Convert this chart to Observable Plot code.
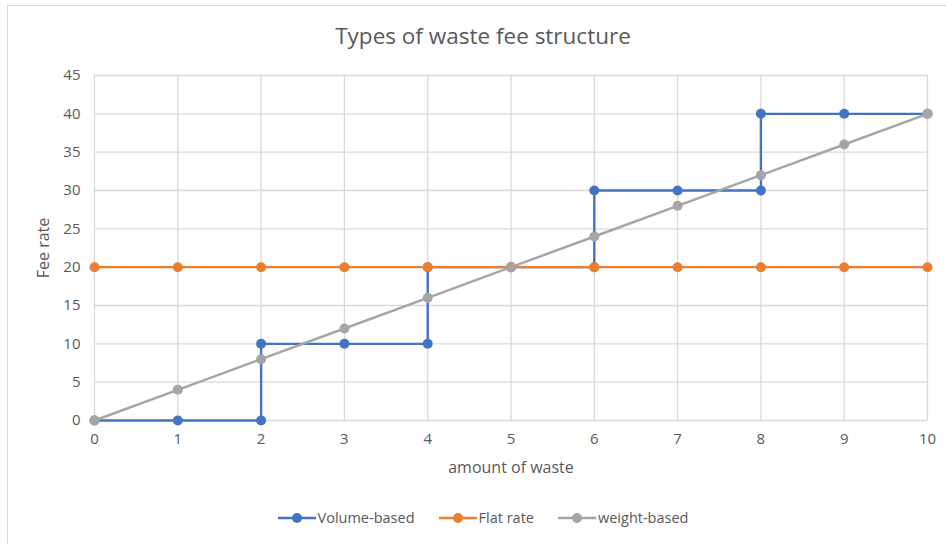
<!DOCTYPE html>
<html>
<head>
<meta charset="utf-8">
<script src="https://cdn.jsdelivr.net/npm/d3@7"></script>
<script src="https://cdn.jsdelivr.net/npm/@observablehq/plot@0.6"></script>
<style>
  body { margin: 0; background: #fff; }
  #wrap { position: relative; width: 946px; height: 544px; overflow: hidden; font-family: "Open Sans", "Liberation Sans", sans-serif; }
  #border { position: absolute; left: 7px; top: 5px; width: 960px; height: 560px; border: 1.5px solid #d9d9d9; box-sizing: border-box; }
  #title { position: absolute; top: 20px; left: 0; width: 966px; text-align: center; font-size: 22.5px; color: #595959; }
  #chart { position: absolute; left: 0; top: 0; }
  #legend { position: absolute; top: 508px; left: 0; width: 966px; display: flex; justify-content: center; gap: 24px; font-size: 14.5px; color: #595959; }
  .item { display: flex; align-items: center; gap: 2px; }
</style>
</head>
<body>
<div id="wrap">
  <div id="border"></div>
  <div id="chart"></div>
  <div id="title">Types of waste fee structure</div>
  <div id="legend"></div>
</div>
<script>
const seriesNames = ["Volume-based", "Flat rate", "weight-based"];
const seriesColors = ["#4472C4", "#ED7D31", "#A5A5A5"];

const volumeX = [0, 1, 2, 2, 3, 4, 4, 5, 6, 6, 7, 8, 8, 9, 10];
const volumeY = [0, 0, 0, 10, 10, 10, 20, 20, 20, 30, 30, 30, 40, 40, 40];
const flatX = [0, 1, 2, 3, 4, 5, 6, 7, 8, 9, 10];
const flatY = [20, 20, 20, 20, 20, 20, 20, 20, 20, 20, 20];
const weightX = [0, 1, 2, 3, 4, 5, 6, 7, 8, 9, 10];
const weightY = [0, 4, 8, 12, 16, 20, 24, 28, 32, 36, 40];
const xTicks = [0, 1, 2, 3, 4, 5, 6, 7, 8, 9, 10];
const yTicks = [0, 5, 10, 15, 20, 25, 30, 35, 40, 45];

const toRows = (xs, ys) => xs.map((x, i) => ({x, y: ys[i]}));
const volume = toRows(volumeX, volumeY);
const flat = toRows(flatX, flatY);
const weight = toRows(weightX, weightY);

const plot = Plot.plot({
  width: 946,
  height: 544,
  marginLeft: 94,
  marginRight: 19,
  marginTop: 75,
  marginBottom: 124,
  style: { fontFamily: "'Open Sans', 'Liberation Sans', sans-serif", fontSize: "15px", color: "#595959", background: "transparent" },
  x: { domain: [0, 10], ticks: xTicks, label: null },
  y: { domain: [0, 45], ticks: yTicks, label: null },
  marks: [
    Plot.gridX(xTicks, { stroke: "#d9d9d9", strokeOpacity: 1, strokeWidth: 1.3 }),
    Plot.gridY(yTicks, { stroke: "#d9d9d9", strokeOpacity: 1, strokeWidth: 1.3 }),
    Plot.axisX(xTicks, { tickSize: 0, tickPadding: 13, fontSize: 15, fill: "#595959", label: null }),
    Plot.axisX({ ticks: [], tickSize: 0, fontSize: 16, fill: "#595959", label: "amount of waste", labelAnchor: "center", labelArrow: "none", labelOffset: 52 }),
    Plot.axisY(yTicks, { tickSize: 0, tickPadding: 14, fontSize: 15, fill: "#595959", label: null }),
    Plot.axisY({ ticks: [], tickSize: 0, fontSize: 16, fill: "#595959", label: "Fee rate", labelAnchor: "center", labelArrow: "none", labelOffset: 57 }),
    Plot.line(volume, { x: "x", y: "y", stroke: seriesColors[0], strokeWidth: 2.4 }),
    Plot.dot(volume, { x: "x", y: "y", fill: seriesColors[0], r: 5 }),
    Plot.line(flat, { x: "x", y: "y", stroke: seriesColors[1], strokeWidth: 2.4 }),
    Plot.dot(flat, { x: "x", y: "y", fill: seriesColors[1], r: 5 }),
    Plot.line(weight, { x: "x", y: "y", stroke: seriesColors[2], strokeWidth: 2.4 }),
    Plot.dot(weight, { x: "x", y: "y", fill: seriesColors[2], r: 5 })
  ]
});
document.getElementById("chart").appendChild(plot);

const legend = document.getElementById("legend");
seriesNames.forEach((name, i) => {
  const item = document.createElement("div");
  item.className = "item";
  item.innerHTML = `<svg width="38" height="12"><line x1="0" y1="6" x2="38" y2="6" stroke="${seriesColors[i]}" stroke-width="2.4"/><circle cx="19" cy="6" r="5" fill="${seriesColors[i]}"/></svg><span>${name}</span>`;
  legend.appendChild(item);
});
</script>
</body>
</html>
